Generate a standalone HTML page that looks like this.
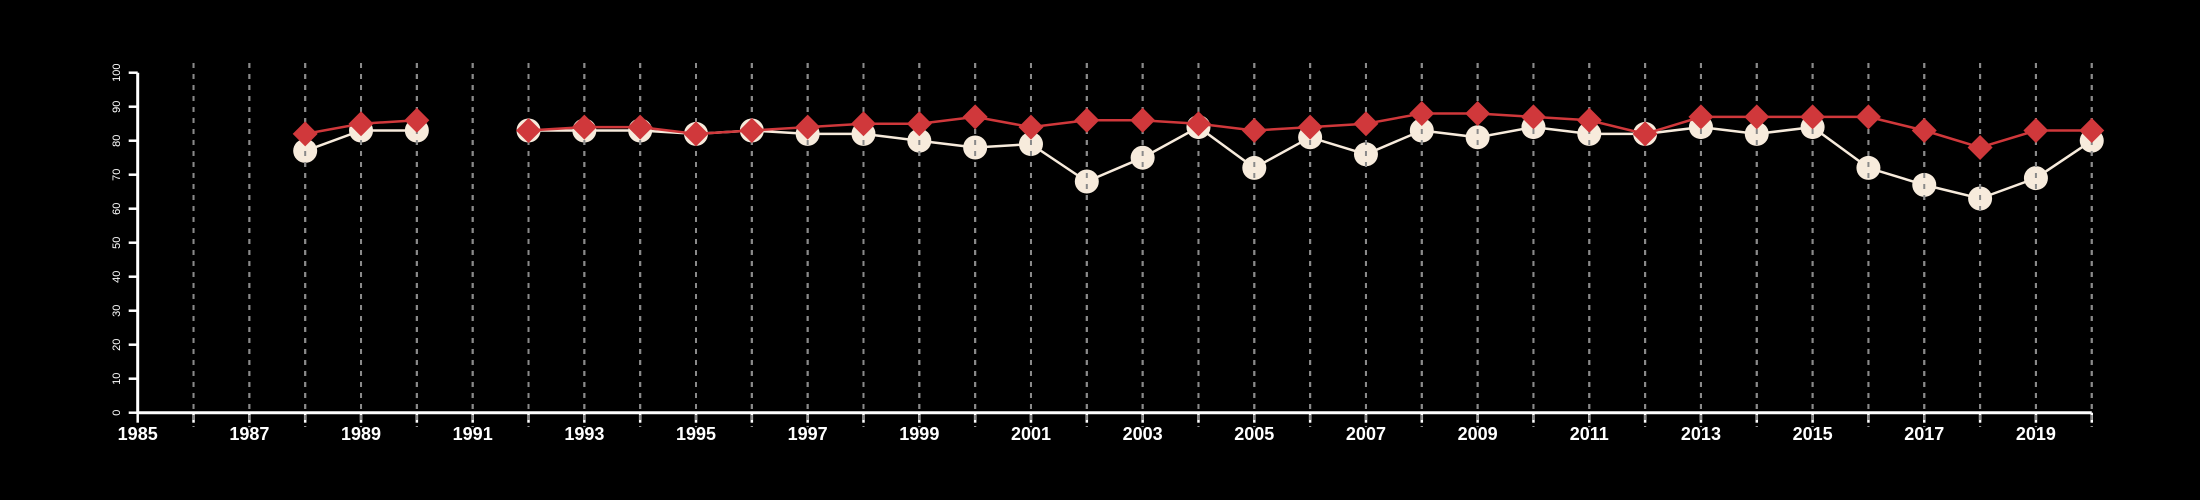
<!DOCTYPE html>
<html><head><meta charset="utf-8"><style>
html,body{margin:0;padding:0;background:#000;}
svg{display:block;}
</style></head><body>
<svg id="chart" width="2200" height="500" xmlns="http://www.w3.org/2000/svg" style="background:#000">
<g id="grid"></g>
<g id="axes"></g>
<g id="series"></g>
</svg>
<script>
const years = [1988,1989,1990,1991,1992,1993,1994,1995,1996,1997,1998,1999,2000,2001,2002,2003,2004,2005,2006,2007,2008,2009,2010,2011,2012,2013,2014,2015,2016,2017,2018,2019,2020];
const whiteValues = [77,83,83,null,83,83,83,82,83,82,82,80,78,79,68,75,84,72,81,76,83,81,84,82,82,84,82,84,72,67,63,69,80];
const redValues = [82,85,86,null,83,84,84,82,83,84,85,85,87,84,86,86,85,83,84,85,88,88,87,86,82,87,87,87,87,83,78,83,83];
const yTicks = [0,10,20,30,40,50,60,70,80,90,100];
const xTickLabels = [1985,1987,1989,1991,1993,1995,1997,1999,2001,2003,2005,2007,2009,2011,2013,2015,2017,2019];

const NS='http://www.w3.org/2000/svg';
const X0=137.7, PX=55.83, Y0=412.7, PY=3.4;
const xs = y => X0 + (y-1985)*PX;
const ys = v => Y0 - v*PY;
function mk(tag, attrs, parent){const e=document.createElementNS(NS,tag);for(const k in attrs)e.setAttribute(k,attrs[k]);parent.appendChild(e);return e;}
const grid=document.getElementById('grid'), axes=document.getElementById('axes'), series=document.getElementById('series');

// gridlines
for(let y=1986;y<=2020;y++){
  const l=mk('line',{x1:xs(y),x2:xs(y),y1:63,y2:427,stroke:'#9a9a9a','stroke-width':2,'stroke-dasharray':'5,6'},grid);
  
  
}
// x axis
const xa=mk('line',{x1:xs(1985),x2:xs(2020),y1:Y0,y2:Y0,stroke:'#fff','stroke-width':3},axes);


for(let y=1985;y<=2020;y++){
  const t=mk('line',{x1:xs(y),x2:xs(y),y1:Y0,y2:Y0+10,stroke:'#fff','stroke-width':2.5},axes);
  
  
}
xTickLabels.forEach(y=>{
  const t=mk('text',{x:xs(y),y:440,'text-anchor':'middle',fill:'#fff','font-family':'Liberation Sans, sans-serif','font-weight':'bold','font-size':18},axes);
  t.textContent=y;
  
  
});
// y axis
const ya=mk('line',{x1:X0,x2:X0,y1:ys(0),y2:ys(100),stroke:'#fff','stroke-width':3},axes);


yTicks.forEach(v=>{
  const t=mk('line',{x1:X0-9,x2:X0,y1:ys(v),y2:ys(v),stroke:'#fff','stroke-width':2.5},axes);
  
  
  const tx=mk('text',{x:0,y:0,transform:`translate(120,${ys(v)}) rotate(-90)`,'text-anchor':'middle',fill:'#fff','font-family':'Liberation Sans, sans-serif','font-size':11},axes);
  tx.textContent=v;
  
  
});

function segments(vals){
  const segs=[];let cur=[];
  vals.forEach((v,i)=>{if(v==null){if(cur.length)segs.push(cur);cur=[];}else cur.push([xs(years[i]),ys(v)]);});
  if(cur.length)segs.push(cur);return segs;
}
// white series (below gridlines visually: gridlines drawn on top of circles)
const wg=mk('g',{},series);


segments(whiteValues).forEach(s=>{
  const p=mk('polyline',{points:s.map(q=>q.join(',')).join(' '),fill:'none',stroke:'#f7ebdc','stroke-width':2.5},wg);
  
  
});
whiteValues.forEach((v,i)=>{
  if(v==null)return;
  const c=mk('circle',{cx:xs(years[i]),cy:ys(v),r:12,fill:'#f7ebdc'},wg);
  
  
});
// move grid above circles
series.parentNode.appendChild(grid.cloneNode(false));
const grid2=series.parentNode.lastChild;


for(let y=1986;y<=2020;y++){
  mk('line',{x1:xs(y),x2:xs(y),y1:63,y2:427,stroke:'#8a8a8a','stroke-width':2,'stroke-dasharray':'5,6'},grid2);
}
// red series
const rg=mk('g',{},series.parentNode);


segments(redValues).forEach(s=>{
  const p=mk('polyline',{points:s.map(q=>q.join(',')).join(' '),fill:'none',stroke:'#d0383b','stroke-width':2.5},rg);
  
  
});
redValues.forEach((v,i)=>{
  if(v==null)return;
  const x=xs(years[i]),y=ys(v),d=12.5;
  const p=mk('polygon',{points:`${x},${y-d} ${x+d},${y} ${x},${y+d} ${x-d},${y}`,fill:'#d0383b'},rg);
  
  
});
</script>
</body></html>
